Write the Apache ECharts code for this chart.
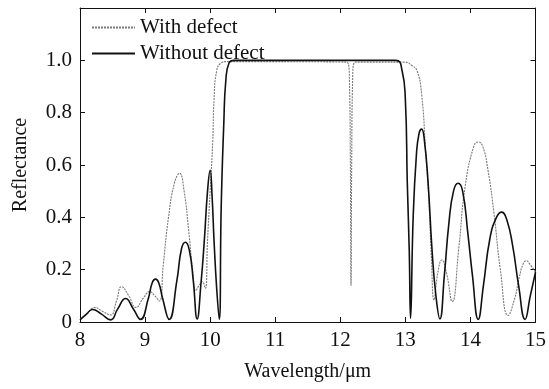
<!DOCTYPE html>
<html>
<head>
<meta charset="utf-8">
<script src="https://cdn.jsdelivr.net/npm/echarts@6/dist/echarts.min.js"></script>
<style>html,body{margin:0;padding:0;background:#fff}#c{width:549px;height:389px}</style>
</head>
<body>
<div id="c"></div>
<script>
var seriesNames = ['With defect', 'Without defect'];

var withDefectX = [8.00, 8.10, 8.23, 8.35, 8.47, 8.56, 8.64, 8.75, 8.86, 8.97, 9.07, 9.15, 9.22, 9.28, 9.36, 9.45, 9.53, 9.60, 9.67, 9.73, 9.78, 9.83, 9.88, 9.925, 9.96, 10.00, 10.04, 10.06, 10.10, 10.17, 10.25, 12.10, 12.14, 12.155, 12.165, 12.175, 12.19, 12.23, 13.00, 13.10, 13.18, 13.25, 13.31, 13.36, 13.40, 13.44, 13.50, 13.56, 13.63, 13.72, 13.82, 13.92, 14.05, 14.12, 14.19, 14.27, 14.36, 14.46, 14.58, 14.68, 14.75, 14.81, 14.86, 14.91, 15.00];
var withDefectR = [0.010, 0.030, 0.055, 0.040, 0.027, 0.080, 0.135, 0.100, 0.056, 0.090, 0.116, 0.100, 0.080, 0.220, 0.400, 0.530, 0.568, 0.500, 0.350, 0.200, 0.120, 0.140, 0.154, 0.128, 0.313, 0.500, 0.690, 0.850, 0.960, 0.990, 0.995, 0.993, 0.930, 0.600, 0.140, 0.600, 0.930, 0.993, 0.993, 0.980, 0.960, 0.870, 0.660, 0.470, 0.250, 0.084, 0.190, 0.237, 0.190, 0.078, 0.280, 0.520, 0.670, 0.688, 0.670, 0.580, 0.420, 0.200, 0.025, 0.090, 0.170, 0.222, 0.234, 0.222, 0.190];

var withoutDefectX = [8.00, 8.10, 8.19, 8.33, 8.47, 8.58, 8.70, 8.82, 8.93, 9.05, 9.11, 9.16, 9.21, 9.27, 9.37, 9.49, 9.56, 9.62, 9.68, 9.74, 9.80, 9.86, 9.91, 9.96, 10.00, 10.03, 10.06, 10.10, 10.14, 10.17, 10.21, 10.24, 10.29, 10.37, 12.85, 12.95, 13.00, 13.03, 13.06, 13.08, 13.12, 13.17, 13.21, 13.25, 13.29, 13.35, 13.41, 13.47, 13.53, 13.60, 13.67, 13.74, 13.81, 13.88, 13.96, 14.03, 14.12, 14.20, 14.30, 14.40, 14.48, 14.56, 14.65, 14.74, 14.84, 14.92, 15.00];
var withoutDefectR = [0.008, 0.030, 0.048, 0.030, 0.008, 0.050, 0.090, 0.050, 0.010, 0.090, 0.150, 0.164, 0.150, 0.090, 0.010, 0.160, 0.280, 0.305, 0.275, 0.160, 0.012, 0.150, 0.310, 0.500, 0.580, 0.480, 0.310, 0.130, 0.010, 0.440, 0.760, 0.920, 0.990, 1.000, 1.000, 0.960, 0.850, 0.530, 0.270, 0.014, 0.400, 0.640, 0.720, 0.737, 0.700, 0.530, 0.275, 0.100, 0.012, 0.180, 0.380, 0.500, 0.530, 0.500, 0.340, 0.180, 0.010, 0.140, 0.320, 0.400, 0.420, 0.390, 0.290, 0.140, 0.010, 0.100, 0.190];

var xTicks = [8, 9, 10, 11, 12, 13, 14, 15];
var yTicks = ['0', '0.2', '0.4', '0.6', '0.8', '1.0'];

function zip(xs, ys) { return xs.map(function (x, i) { return [x, ys[i]]; }); }

var FONT = '"Liberation Serif", "Times New Roman", serif';
var chart = echarts.init(document.getElementById('c'), null, {renderer: 'canvas'});
var axisCommon = {
  axisLine: {show: true, onZero: false, lineStyle: {color: '#111', width: 1}},
  axisTick: {show: true, inside: true, length: 5, lineStyle: {color: '#111'}},
  splitLine: {show: false}
};
chart.setOption({
  animation: false,
  backgroundColor: '#fff',
  grid: {left: 80, right: 11, top: 8, bottom: 67, show: false},
  legend: {
    show: true, orient: 'vertical', left: 86, top: 12, itemWidth: 43, itemHeight: 14, itemGap: 5,
    itemStyle: {opacity: 0},
    textStyle: {fontFamily: FONT, fontSize: 21, color: '#111'},
    data: seriesNames
  },
  xAxis: [
    Object.assign({
      type: 'value', min: 8, max: 15, interval: 1, position: 'bottom',
      name: 'Wavelength/\u03bcm', nameLocation: 'middle', nameGap: 40,
      nameTextStyle: {fontFamily: FONT, fontSize: 20, color: '#111'},
      axisLabel: {fontFamily: FONT, fontSize: 21, color: '#111', margin: 8,
        formatter: function (v) { return xTicks.indexOf(v) >= 0 ? String(v) : ''; }}
    }, axisCommon),
    Object.assign({
      type: 'value', min: 8, max: 15, interval: 1, position: 'top',
      axisLabel: {show: false}
    }, axisCommon)
  ],
  yAxis: [
    Object.assign({
      type: 'value', min: 0, max: 1.2, interval: 0.2, position: 'left',
      name: 'Reflectance', nameLocation: 'middle', nameGap: 49,
      nameTextStyle: {fontFamily: FONT, fontSize: 20, color: '#111'},
      axisLabel: {fontFamily: FONT, fontSize: 21, color: '#111', margin: 8,
        formatter: function (v) {
          var s = Math.abs(v) < 1e-9 ? '0' : v.toFixed(1);
          return yTicks.indexOf(s) >= 0 ? s : '';
        }}
    }, axisCommon),
    Object.assign({
      type: 'value', min: 0, max: 1.2, interval: 0.2, position: 'right',
      axisLabel: {show: false}
    }, axisCommon)
  ],
  series: [
    {
      name: seriesNames[0], type: 'line', xAxisIndex: 0, yAxisIndex: 0,
      data: zip(withDefectX, withDefectR), showSymbol: false, symbol: 'none', smooth: 0.5,
      lineStyle: {color: '#7a7a7a', width: 1.1, type: [2, 1]}, itemStyle: {color: '#7a7a7a'},
      z: 2
    },
    {
      name: seriesNames[1], type: 'line', xAxisIndex: 0, yAxisIndex: 0,
      data: zip(withoutDefectX, withoutDefectR), showSymbol: false, symbol: 'none', smooth: 0.5,
      lineStyle: {color: '#111', width: 1.6}, itemStyle: {color: '#111'},
      z: 3
    }
  ]
});
</script>
</body>
</html>
